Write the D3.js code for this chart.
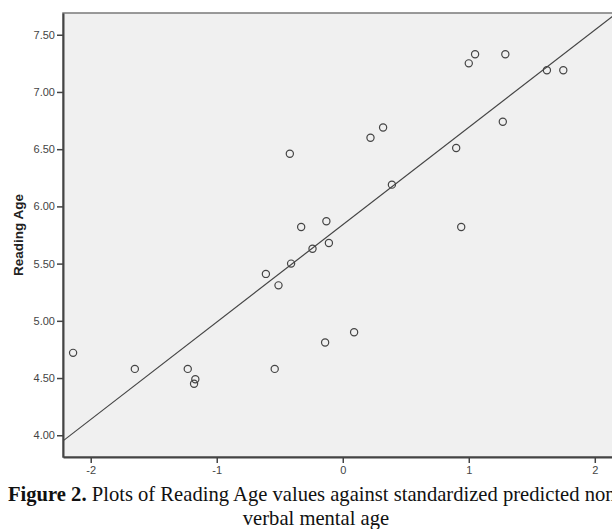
<!DOCTYPE html>
<html>
<head>
<meta charset="utf-8">
<script src="https://cdn.jsdelivr.net/npm/d3@7"></script>
<style>
  body { margin: 0; background: #fff; }
  svg { display: block; }
</style>
</head>
<body>
<svg id="chart" width="612" height="529"></svg>
<script>
// standardized predicted non-verbal mental age (x) vs reading age (y)
const predX = [-2.14, -1.65, -1.23, -1.17, -1.18, -0.54, 0.39, -0.33, -0.13, 0.94,
               -0.24, -0.11, -0.41, -0.61, -0.51, 0.09, -0.14, -0.42, 0.22, 0.32,
               0.90, 1.27, 1.00, 1.05, 1.29, 1.62, 1.75];
const readingAge = [4.72, 4.58, 4.58, 4.49, 4.45, 4.58, 6.19, 5.82, 5.87, 5.82,
                    5.63, 5.68, 5.50, 5.41, 5.31, 4.90, 4.81, 6.46, 6.60, 6.69,
                    6.51, 6.74, 7.25, 7.33, 7.33, 7.19, 7.19];
// fit line: intercept, slope
const fitLine = [5.84, 0.851];
const xTicks = [-2, -1, 0, 1, 2];
const yTicks = [4.0, 4.5, 5.0, 5.5, 6.0, 6.5, 7.0, 7.5];

const svg = d3.select("#chart");
const plotLeft = 63, plotTop = 13, plotRight = 620, plotBottom = 457;

const x = d3.scaleLinear().domain([-2.22, 2.2]).range([plotLeft, plotRight]);
const y = d3.scaleLinear().domain([3.81, 7.69]).range([plotBottom, plotTop]);

// plot background + frame
svg.append("rect")
    .attr("x", plotLeft).attr("y", plotTop)
    .attr("width", plotRight - plotLeft).attr("height", plotBottom - plotTop)
    .attr("fill", "#f0f0f0")
    .attr("stroke", "#7a7a7a")
    .attr("stroke-width", 1.5);

svg.append("defs").append("clipPath").attr("id", "plotclip")
    .append("rect")
    .attr("x", plotLeft).attr("y", plotTop)
    .attr("width", plotRight - plotLeft).attr("height", plotBottom - plotTop);

// axes
const yAxis = svg.append("g")
    .attr("transform", `translate(${plotLeft},0)`)
    .call(d3.axisLeft(y).tickValues(yTicks).tickFormat(d3.format(".2f"))
        .tickSizeInner(6).tickSizeOuter(0).tickPadding(2));
const xAxis = svg.append("g")
    .attr("transform", `translate(0,${plotBottom})`)
    .call(d3.axisBottom(x).tickValues(xTicks).tickFormat(d3.format("d"))
        .tickSizeInner(6).tickSizeOuter(0).tickPadding(3));

[yAxis, xAxis].forEach(g => {
    g.select(".domain").attr("stroke", "#444").attr("stroke-width", 2);
    g.selectAll(".tick line").attr("stroke", "#444").attr("stroke-width", 1.5);
    g.selectAll(".tick text")
        .attr("fill", "#444")
        .style("font-family", "'Liberation Sans', Arial, sans-serif")
        .style("font-size", "11px");
});
xAxis.selectAll(".tick text").text(d => d < 0 ? "-" + Math.abs(d) : d);

// y axis title
svg.append("text")
    .attr("transform", "translate(23,235) rotate(-90)")
    .attr("text-anchor", "middle")
    .style("font-family", "'Liberation Sans', Arial, sans-serif")
    .style("font-size", "13.5px")
    .style("font-weight", "bold")
    .attr("fill", "#222")
    .text("Reading Age");

const plot = svg.append("g").attr("clip-path", "url(#plotclip)");

// fit line
const [b0, b1] = fitLine;
const xd = x.domain();
plot.append("line")
    .attr("x1", x(xd[0])).attr("y1", y(b0 + b1 * xd[0]))
    .attr("x2", x(xd[1])).attr("y2", y(b0 + b1 * xd[1]))
    .attr("stroke", "#444")
    .attr("stroke-width", 1.2);

// points
plot.selectAll("circle")
    .data(predX.map((v, i) => [v, readingAge[i]]))
    .enter().append("circle")
    .attr("cx", d => x(d[0]))
    .attr("cy", d => y(d[1]))
    .attr("r", 3.6)
    .attr("fill", "none")
    .attr("stroke", "#444")
    .attr("stroke-width", 1.2);

// caption
const cap = svg.append("g")
    .style("font-family", "'Liberation Serif', 'Times New Roman', serif")
    .style("font-size", "20.6px")
    .attr("fill", "#111");
const line1 = cap.append("text").attr("x", 8).attr("y", 501);
line1.append("tspan").style("font-weight", "bold").text("Figure 2.");
line1.append("tspan").text(" Plots of Reading Age values against standardized predicted non-");
cap.append("text")
    .attr("x", 316).attr("y", 525)
    .attr("text-anchor", "middle")
    .text("verbal mental age");
</script>
</body>
</html>
